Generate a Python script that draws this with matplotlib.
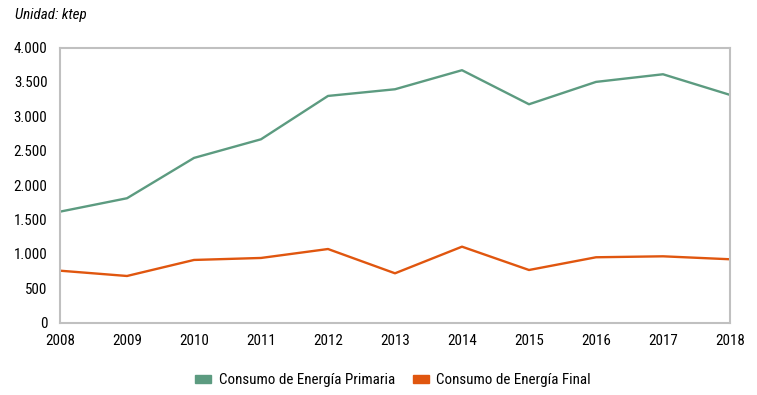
import matplotlib
matplotlib.use("Agg")
import matplotlib.pyplot as plt
from matplotlib import font_manager
from matplotlib.patches import Patch

years = [2008, 2009, 2010, 2011, 2012, 2013, 2014, 2015, 2016, 2017, 2018]
primaria = [1614, 1809, 2395, 2666, 3296, 3393, 3670, 3175, 3500, 3611, 3311]
final = [756, 679, 912, 941, 1071, 718, 1105, 766, 951, 965, 922]
yticks = [0, 500, 1000, 1500, 2000, 2500, 3000, 3500, 4000]
ytick_labels = ["0", "500", "1.000", "1.500", "2.000", "2.500", "3.000", "3.500", "4.000"]
series_names = ["Consumo de Energía Primaria", "Consumo de Energía Final"]

names = {f.name for f in font_manager.fontManager.ttflist}
fam = "DejaVu Sans"
for cand in ["Roboto Condensed", "Archivo Narrow", "Liberation Sans Narrow", "Asap Condensed", "Barlow Semi Condensed"]:
    if cand in names:
        fam = cand
        break
plt.rcParams["font.family"] = [fam, "DejaVu Sans"]

green = "#5c9b80"
orange = "#e0560f"
fs = 10.8

fig = plt.figure(figsize=(7.57, 3.95), dpi=100)
ax = fig.add_axes([60/757, 1 - 322.7/395, 670/757, 275.2/395])
ax.plot(years, primaria, color=green, lw=1.7)
ax.plot(years, final, color=orange, lw=1.7)
ax.set_xlim(2008, 2018)
ax.set_ylim(0, 4000)
ax.set_xticks(years)
ax.set_xticklabels([str(y) for y in years], fontsize=fs)
ax.set_yticks(yticks)
ax.set_yticklabels(ytick_labels, fontsize=fs)
ax.tick_params(axis="y", length=0, pad=9)
ax.tick_params(axis="x", length=0, pad=8)
for s in ax.spines.values():
    s.set_color("#c0c0c0")
    s.set_linewidth(1.5)

fig.text(15/757, 1 - 15/395, "Unidad: ktep", fontsize=fs, style="italic", va="center", ha="left")

handles = [Patch(color=green), Patch(color=orange)]
fig.legend(handles, series_names, loc="center", bbox_to_anchor=(393/757, 1 - 380/395), ncol=2,
           frameon=False, fontsize=fs, handlelength=1.05, handleheight=0.45, columnspacing=1.2,
           handletextpad=0.5)

fig.savefig("out.png", dpi=100)
